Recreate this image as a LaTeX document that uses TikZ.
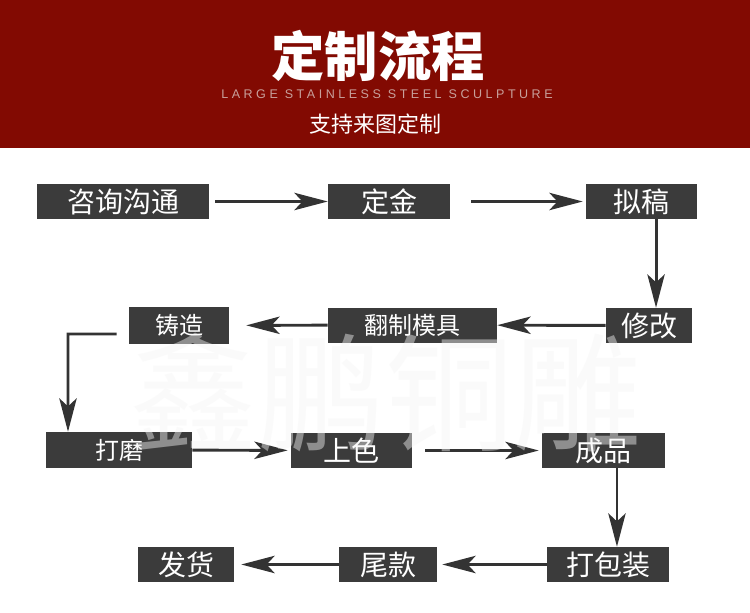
\documentclass[tikz,border=0pt]{standalone}
\usepackage{fontspec}
\setmainfont{Liberation Sans}
\newfontfamily\cjk{Noto Sans CJK SC}
\newfontfamily\subfont[LetterSpace=28]{Liberation Sans}
\usetikzlibrary{arrows.meta}
\usetikzlibrary{positioning, math}
\definecolor{headred}{RGB}{130,10,2}
\definecolor{boxgray}{RGB}{59,59,59}
\definecolor{arrowgray}{RGB}{51,51,51}
\definecolor{subpink}{RGB}{200,160,155}
\definecolor{markgray}{RGB}{245,245,245}

\tikzset{
  stepbox/.style={fill=boxgray, text=white, inner sep=0pt, minimum height=26.25pt,
    font=\cjk\fontsize{21}{21}\selectfont},
  smallbox/.style={stepbox, font=\cjk\fontsize{18}{18}\selectfont},
  flow/.style={draw=arrowgray, line width=2.2pt,
    -{Stealth[length=25pt,width=13pt,inset=6pt]}},
}

\begin{document}
\begin{tikzpicture}[x=0.75pt,y=-0.75pt]
\tikzmath{
\W=750;
\H=613;
\band=148;
}
\useasboundingbox (0,0) rectangle (\W,\H);
\fill[white] (0,0) rectangle (\W,\H);
%header
\fill[headred] (0,0) rectangle (\W,\band);
\node[font=\cjk\bfseries\fontsize{40}{40}\selectfont, text=white] (title) at (378,56) {定制流程};
\node[font=\subfont\fontsize{9.4}{10}\selectfont, text=subpink] (subtitle) at (387,94.5) {LARGE STAINLESS STEEL SCULPTURE};
\node[font=\cjk\fontsize{16.5}{17}\selectfont, text=white] (slogan) at (375,124.5) {支持来图定制};

%first row
\node[stepbox, minimum width=129pt] (consult) at (123,201.5) {咨询沟通};
\node[stepbox, minimum width=91.5pt] (deposit) at (389,201.5) {定金};
\node[stepbox, minimum width=83.25pt] (draft) at (641.5,201.5) {拟稿};
%second row
\node[stepbox, minimum width=64.5pt] (revise) at (649,325.5) {修改};
\node[smallbox, minimum width=126.75pt] (mould) at (412.5,325) {翻制模具};
\node[smallbox, minimum width=75pt, minimum height=27.75pt] (cast) at (179,325.5) {铸造};
%third row
\node[smallbox, minimum width=109.5pt, minimum height=27pt] (polish) at (119,450) {打磨};
\node[stepbox, minimum width=90.75pt] (colour) at (351.5,450.5) {上色};
\node[stepbox, minimum width=92.25pt] (product) at (603.5,450.5) {成品};
%fourth row
\node[stepbox, minimum width=91.5pt] (pack) at (608,564.5) {打包装};
\node[stepbox, minimum width=73.5pt] (balance) at (388,564.5) {尾款};
\node[stepbox, minimum width=72pt] (ship) at (186,564.5) {发货};

%arrows
\draw[flow, shorten <=4.5pt] (consult) -- (deposit);
\draw[flow, shorten <=15.75pt, shorten >=2.25pt] (deposit) -- (draft);
\draw[flow] ([xshift=10.9pt]draft.south) -- ([xshift=10.9pt]draft.south |- revise.north);
\draw[flow] (revise) -- (mould);
\draw[flow, shorten >=12.75pt] (mould) -- (cast);
\coordinate (bend) at (68,334);
\draw[flow, shorten <=9pt] ([yshift=-6.4pt]cast.west) -- (bend) -- (bend |- polish.north);
\draw[flow, shorten >=2.25pt] (polish) -- (colour);
\draw[flow, shorten <=9.75pt, shorten >=2.25pt] (colour) -- (product);
\draw[flow] ([xshift=10.1pt]product.south) -- ([xshift=10.1pt]product.south |- pack.north);
\draw[flow, shorten >=3.75pt] (pack) -- (balance);
\draw[flow, shorten >=5.25pt] (balance) -- (ship);

%watermark
\node[font=\cjk\fontsize{96}{96}\selectfont, text=markgray, text opacity=0.45] (mark) at (385,392) {鑫鹏铜雕};
\end{tikzpicture}
\end{document}
